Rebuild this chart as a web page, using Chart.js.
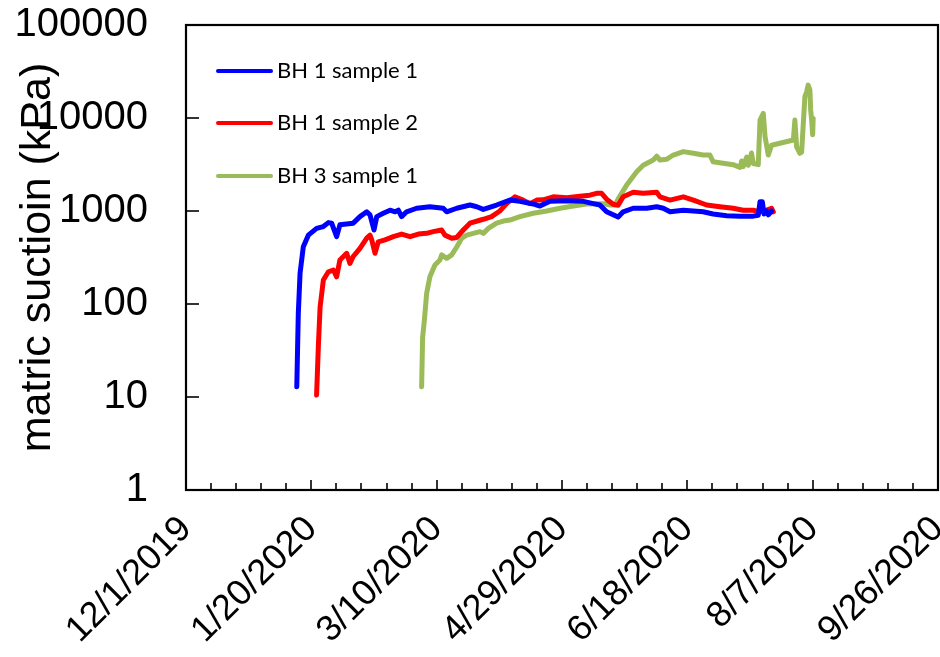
<!DOCTYPE html>
<html><head><meta charset="utf-8">
<script src="https://cdn.jsdelivr.net/npm/chart.js@4.4.1/dist/chart.umd.min.js"></script>
<style>html,body{margin:0;padding:0;background:#fff}#wrap{width:940px;height:657px;position:relative}</style>
</head><body><div id="wrap"><canvas id="c" width="940" height="657"></canvas></div>
<script>
// Day 0 = 12/1/2019
const seriesNames = ['BH 1 sample 1', 'BH 1 sample 2', 'BH 3 sample 1'];
const seriesColors = ['#0000FF', '#FF0000', '#9BBB59'];

const bh1s1Days = [44.2,44.8,45.5,46.8,48.8,52.1,54.8,56.8,58.1,60.1,61.4,66.7,69.4,72.1,73.4,75.0,76.1,78.7,81.4,83.4,84.7,86.0,88.0,92.0,97.3,102.6,104.0,108.0,113.3,116.0,118.6,123.9,129.2,133.2,138.5,141.2,145.2,151.9,158.5,162.5,165.1,167.8,170.4,172.4,174.4,178.4,183.8,187.8,190.4,193.1,198.4,202.4,206.3,210.3,215.7,221.0,226.3,228.3,229.0,229.9,230.6,231.6,232.3,233.6];
const bh1s1Values = [12.9,79,214,413,550,650,680,750,740,530,710,740,870,980,910,625,870,945,1020,980,1020,870,980,1070,1110,1070,980,1070,1160,1110,1040,1160,1310,1270,1190,1130,1270,1290,1270,1200,1160,980,910,860,980,1070,1070,1110,1070,980,1020,1000,980,930,890,880,880,900,1260,1260,930,1000,910,1000];

const bh1s2Days = [52.1,52.8,53.5,54.8,56.8,58.8,60.1,61.4,64.1,65.4,66.7,69.4,72.1,73.4,74.1,75.4,76.7,79.4,82.7,86.0,89.4,92.7,96.0,98.6,102.0,103.3,106.0,108.0,110.6,113.3,118.6,121.9,125.2,127.9,131.2,134.5,137.2,139.9,142.5,146.5,151.9,157.2,161.1,163.8,165.8,167.8,170.4,172.4,174.4,178.4,182.4,187.8,189.1,193.1,198.4,202.4,207.7,213.0,218.3,222.3,226.3,229.0,231.6,233.6,234.3];
const bh1s2Values = [10.5,35,93,181,222,232,196,297,351,273,324,397,510,550,490,351,466,490,530,565,530,565,575,600,625,550,510,520,625,740,815,870,1000,1200,1420,1310,1200,1310,1320,1420,1390,1440,1480,1550,1550,1340,1180,1150,1420,1590,1550,1590,1420,1310,1420,1310,1160,1110,1070,1020,1020,980,1020,1070,980];

const bh3s1Days = [94.0,94.4,95.1,96.0,97.3,99.3,101.3,102.0,104.0,106.0,108.0,110.0,112.0,114.6,117.3,118.6,120.6,123.9,126.6,129.2,133.2,138.5,143.9,149.2,154.5,159.8,163.8,166.5,169.1,171.1,173.1,175.8,179.8,182.4,186.4,187.8,189.1,191.7,194.4,198.4,202.4,206.3,209.0,210.3,212.9,218.3,221.0,221.7,222.3,223.7,224.3,225.6,226.3,228.3,229.0,230.3,231.0,232.3,233.6,242.3,242.9,243.6,244.9,245.6,246.9,247.6,248.2,248.9,249.2,249.6,250.0,250.2];
const bh3s1Values = [12.9,44,67,130,196,263,297,337,310,337,410,510,550,575,600,575,650,740,780,800,870,945,1000,1070,1130,1190,1200,1200,1160,1160,1450,1900,2640,3100,3530,3880,3530,3600,4000,4350,4170,4000,4000,3380,3300,3150,2950,3450,3000,3800,3100,4200,3240,3150,9500,11200,6300,4000,5100,5800,9500,4900,4170,4300,17000,19100,22600,20000,12200,9500,6600,9900];

const xTickDays = [0, 50, 100, 150, 200, 250, 300];
const xTickLabels = ['12/1/2019', '1/20/2020', '3/10/2020', '4/29/2020', '6/18/2020', '8/7/2020', '9/26/2020'];
const xMinorStep = 10;
const yTickValues = [1, 10, 100, 1000, 10000, 100000];
const yTickLabels = ['1', '10', '100', '1000', '10000', '100000'];
const yTitle = 'matric suctioin (kPa)';

const toPts = (d, v) => d.map((x, i) => ({x: x, y: v[i]}));
const allDays = [bh1s1Days, bh1s2Days, bh3s1Days];
const allVals = [bh1s1Values, bh1s2Values, bh3s1Values];

const frameTicks = {
  id: 'frameTicks',
  afterDatasetsDraw(chart) {
    const ctx = chart.ctx, a = chart.chartArea;
    const xs = chart.scales.x, ys = chart.scales.y;
    ctx.save();
    ctx.strokeStyle = '#000';
    ctx.lineWidth = 1.6;
    for (let d = xs.min; d <= xs.max; d += xMinorStep) {
      const px = Math.round(xs.getPixelForValue(d));
      const major = xTickDays.includes(d);
      ctx.beginPath();
      ctx.moveTo(px, a.bottom);
      ctx.lineTo(px, a.bottom - (major ? 10 : 7));
      ctx.stroke();
    }
    yTickValues.forEach(v => {
      const py = Math.round(ys.getPixelForValue(v));
      ctx.beginPath();
      ctx.moveTo(a.left, py);
      ctx.lineTo(a.left + 13, py);
      ctx.stroke();
    });
    ctx.lineWidth = 2.2;
    ctx.strokeRect(a.left, a.top, a.right - a.left, a.bottom - a.top);
    ctx.restore();
  }
};

const innerLegend = {
  id: 'innerLegend',
  afterDraw(chart) {
    const ctx = chart.ctx, a = chart.chartArea;
    const rows = [71, 123, 176];
    ctx.save();
    ctx.font = '22px Lato';
    ctx.textBaseline = 'middle';
    ctx.textAlign = 'left';
    chart.data.datasets.forEach((ds, i) => {
      const y = rows[i];
      ctx.strokeStyle = ds.borderColor;
      ctx.lineWidth = 4;
      ctx.lineCap = 'round';
      ctx.beginPath();
      ctx.moveTo(a.left + 32, y);
      ctx.lineTo(a.left + 85, y);
      ctx.stroke();
      ctx.fillStyle = '#000';
      ctx.fillText(ds.label, a.left + 91, y);
    });
    ctx.restore();
  }
};

new Chart(document.getElementById('c'), {
  type: 'line',
  data: {
    datasets: seriesNames.map((n, i) => ({
      label: n,
      data: toPts(allDays[i], allVals[i]),
      borderColor: seriesColors[i],
      backgroundColor: seriesColors[i],
      borderWidth: 5,
      pointRadius: 0,
      tension: 0,
      fill: false,
      borderJoinStyle: 'round',
      borderCapStyle: 'round'
    }))
  },
  options: {
    responsive: false,
    animation: false,
    devicePixelRatio: 1,
    layout: {padding: {top: 25, right: 2, left: 0, bottom: 0}},
    plugins: {legend: {display: false}, tooltip: {enabled: false}},
    scales: {
      x: {
        type: 'linear', min: 0, max: 300,
        grid: {display: false, drawTicks: false},
        border: {display: false},
        afterBuildTicks: s => { s.ticks = xTickDays.map(v => ({value: v})); },
        afterFit: s => { s.height = 167; s.paddingLeft = 0; s.paddingRight = 0; },
        ticks: {
          autoSkip: false, minRotation: 45, maxRotation: 45, padding: 18,
          color: '#000', font: {family: 'Liberation Sans', size: 36},
          callback: v => xTickLabels[xTickDays.indexOf(v)]
        }
      },
      y: {
        type: 'logarithmic', min: 1, max: 100000,
        grid: {display: false, drawTicks: false},
        border: {display: false},
        afterBuildTicks: s => { s.ticks = yTickValues.map(v => ({value: v})); },
        afterFit: s => { s.width = 186; s.paddingTop = 0; s.paddingBottom = 0; },
        ticks: {
          padding: 38, color: '#000', font: {family: 'Liberation Sans', size: 40},
          callback: v => yTickLabels[yTickValues.indexOf(v)]
        },
        title: {
          display: true, text: yTitle, color: '#000',
          font: {family: 'Liberation Sans', size: 43}, padding: {top: 12, bottom: 0}
        }
      }
    }
  },
  plugins: [frameTicks, innerLegend]
});
</script></body></html>
